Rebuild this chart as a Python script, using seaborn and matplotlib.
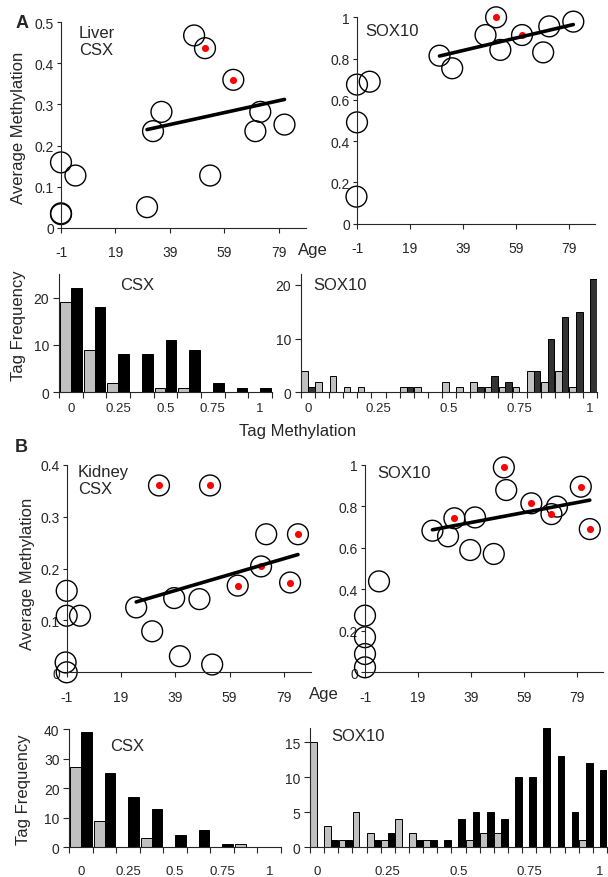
import numpy as np
import pandas as pd
import matplotlib
matplotlib.use('Agg')
import matplotlib.pyplot as plt
import seaborn as sns

sns.set_style('ticks')
plt.rcParams['font.family'] = ['Liberation Sans', 'DejaVu Sans']
plt.rcParams['axes.unicode_minus'] = False

# Scatter data: age vs average methylation (red = flagged samples)
liver_csx_age = [-1, -1, -1, 4.3, 30.6, 32.8, 35.9, 47.9, 51.9, 53.8, 62.3, 70.4, 72.2, 81.1]
liver_csx_meth = [0.159, 0.033, 0.035, 0.127, 0.050, 0.235, 0.282, 0.468, 0.437, 0.127, 0.360, 0.235, 0.282, 0.251]
liver_csx_red = [0, 0, 0, 0, 0, 0, 0, 0, 1, 0, 1, 0, 0, 0]

liver_sox_age = [-1, 3.8, -1, -1.2, 30.2, 35.0, 47.6, 51.6, 53.2, 61.4, 69.4, 71.7, 80.8]
liver_sox_meth = [0.674, 0.688, 0.491, 0.131, 0.814, 0.753, 0.914, 1.0, 0.842, 0.914, 0.830, 0.956, 0.979]
liver_sox_red = [0, 0, 0, 0, 0, 0, 0, 1, 0, 1, 0, 0, 0]

kidney_csx_age = [-1, -1, 3.9, -1.4, -1, 24.6, 30.5, 33.0, 38.6, 40.7, 47.9, 51.8, 52.6, 62.0, 70.6, 72.5, 81.3, 84.2]
kidney_csx_meth = [0.157, 0.109, 0.109, 0.019, 0.0, 0.125, 0.079, 0.360, 0.143, 0.031, 0.141, 0.360, 0.015, 0.167, 0.204, 0.266, 0.173, 0.266]
kidney_csx_red = [0, 0, 0, 0, 0, 0, 0, 1, 0, 0, 0, 1, 0, 1, 1, 0, 1, 1]

kidney_sox_age = [-1, -1, -1, -1, 4.3, 24.5, 30.4, 32.8, 38.8, 40.6, 47.7, 51.5, 52.4, 61.9, 69.5, 71.6, 80.6, 84.0]
kidney_sox_meth = [0.024, 0.088, 0.169, 0.273, 0.438, 0.682, 0.655, 0.742, 0.589, 0.746, 0.570, 0.987, 0.878, 0.814, 0.762, 0.798, 0.894, 0.690]
kidney_sox_red = [0, 0, 0, 0, 0, 0, 0, 1, 0, 0, 0, 1, 0, 1, 1, 0, 1, 1]

# Histogram data: tag frequency per methylation bin (gray / black groups)
csx_bins = ['0', '0.125', '0.25', '0.375', '0.5', '0.625', '0.75', '0.875', '1']
sox_bins = ['%g' % (i * 0.05) for i in range(21)]

liver_csx_gray = [19, 9, 2, 0, 1, 1, 0, 0, 0]
liver_csx_black = [22, 18, 8, 8, 11, 9, 2, 1, 1]
liver_sox_gray = [4, 2, 3, 1, 1, 0, 0, 1, 1, 0, 2, 1, 2, 1, 1, 1, 4, 2, 4, 1, 0]
liver_sox_black = [1, 0, 0, 0, 0, 0, 0, 1, 0, 0, 0, 0, 1, 3, 2, 0, 4, 10, 14, 15, 21]
kidney_csx_gray = [27, 9, 0, 3, 0, 0, 0, 1, 0]
kidney_csx_black = [39, 25, 17, 13, 4, 6, 1, 0, 0]
kidney_sox_gray = [15, 3, 1, 5, 2, 1, 4, 2, 1, 0, 0, 1, 2, 2, 0, 0, 0, 0, 0, 1, 0]
kidney_sox_black = [0, 1, 1, 0, 1, 2, 0, 1, 1, 1, 4, 5, 5, 4, 10, 10, 17, 13, 5, 12, 11]

hist_labels = ['0', '0.25', '0.5', '0.75', '1']

W, H = 608, 878
fig = plt.figure(figsize=(W / 100, H / 100), dpi=100)


def add_ax(l, t, r, b):
    return fig.add_axes([l / W, 1 - b / H, (r - l) / W, (b - t) / H])


def scatter_panel(ax, age, meth, red, ymax, ystep):
    df = pd.DataFrame({'age': age, 'meth': meth, 'red': red})
    sns.scatterplot(data=df, x='age', y='meth', s=225, facecolor='none',
                    edgecolor='black', linewidth=1.0, clip_on=False, ax=ax)
    sns.scatterplot(data=df[df.red == 1], x='age', y='meth', s=26, color='red',
                    linewidth=0, clip_on=False, ax=ax)
    adult = df[df.age > 20]
    sns.regplot(data=adult, x='age', y='meth', scatter=False, ci=None,
                color='black', line_kws={'linewidth': 2.6}, ax=ax)
    ax.set_xlim(-1, 89)
    ax.set_ylim(0, ymax)
    ax.set_xticks([-1, 19, 39, 59, 79])
    yt = np.round(np.arange(0, ymax + 1e-9, ystep), 2)
    ax.set_yticks(yt)
    ax.set_yticklabels(['%g' % v for v in yt])
    ax.set_xlabel('')
    ax.set_ylabel('')
    ax.tick_params(axis='x', length=3.5, width=0.8, labelsize=10, pad=9)
    ax.tick_params(axis='y', length=3, width=0.8, labelsize=10, pad=2)
    for s in ['left', 'bottom']:
        ax.spines[s].set_linewidth(0.8)
    sns.despine(ax=ax)


def hist_panel(ax, bins, gray, black, ymax, yticks, dark='black', width=0.92, xpad=3):
    df = pd.DataFrame({'bin': bins * 2, 'count': gray + black,
                       'group': ['gray'] * len(bins) + ['black'] * len(bins)})
    sns.barplot(data=df, x='bin', y='count', hue='group', order=bins,
                hue_order=['gray', 'black'], palette={'gray': '#c0c0c0', 'black': dark},
                width=width, edgecolor='black', linewidth=0.7, legend=False,
                saturation=1, ax=ax)
    n = len(bins)
    ax.set_xlim(-0.5, n - 0.5)
    ax.set_ylim(0, ymax)
    pos = [bins.index('%g' % float(l)) for l in hist_labels]
    ax.set_xticks(pos)
    ax.set_xticklabels(hist_labels)
    ax.set_xticks(np.arange(n + 1) - 0.5, minor=True)
    ax.set_yticks(yticks)
    ax.set_xlabel('')
    ax.set_ylabel('')
    ax.tick_params(axis='x', which='major', length=0, labelsize=9.5, pad=xpad + 4)
    ax.tick_params(axis='x', which='minor', length=4, width=0.8)
    ax.tick_params(axis='y', length=4, width=0.8, labelsize=10, pad=3)
    for s in ['left', 'bottom']:
        ax.spines[s].set_linewidth(0.8)
    sns.despine(ax=ax)


# Panel A
ax1 = add_ax(61, 23.3, 306, 228.7)
scatter_panel(ax1, liver_csx_age, liver_csx_meth, liver_csx_red, 0.5, 0.1)
ax2 = add_ax(357, 18.3, 595, 224.7)
scatter_panel(ax2, liver_sox_age, liver_sox_meth, liver_sox_red, 1.0, 0.2)
ax3 = add_ax(59, 275, 272, 393.3)
hist_panel(ax3, csx_bins, liver_csx_gray, liver_csx_black, 25, [0, 10, 20])
ax4 = add_ax(301, 275, 597, 393.3)
hist_panel(ax4, sox_bins, liver_sox_gray, liver_sox_black, 22, [0, 10, 20],
           dark='#333333', width=0.95)

# Panel B
ax5 = add_ax(66.7, 465.7, 311, 673.3)
scatter_panel(ax5, kidney_csx_age, kidney_csx_meth, kidney_csx_red, 0.4, 0.1)
ax6 = add_ax(365, 465.7, 603, 673.3)
scatter_panel(ax6, kidney_sox_age, kidney_sox_meth, kidney_sox_red, 1.0, 0.2)
ax7 = add_ax(69.3, 730, 281, 848.3)
hist_panel(ax7, csx_bins, kidney_csx_gray, kidney_csx_black, 40, [0, 10, 20, 30, 40], xpad=9)
ax8 = add_ax(310, 729.3, 607, 848.3)
hist_panel(ax8, sox_bins, kidney_sox_gray, kidney_sox_black, 17, [0, 5, 10, 15],
           width=0.95, xpad=9)


def ftext(x, y, s, **kw):
    kw.setdefault('size', 12)
    fig.text(x / W, 1 - y / H, s, **kw)


ftext(22, 23, 'A', weight='bold', size=13, ha='center', va='center')
ftext(79, 26, 'Liver\nCSX', va='top', linespacing=1.15)
ftext(365, 32, 'SOX10', va='center')
ftext(19, 128, 'Average Methylation', rotation=90, ha='center', va='center')
ftext(313, 251, 'Age', ha='center', va='center')
ftext(137, 285, 'CSX', ha='center', va='center')
ftext(340, 285, 'SOX10', ha='center', va='center')
ftext(19, 326, 'Tag Frequency', rotation=90, ha='center', va='center')
ftext(298, 432, 'Tag Methylation', ha='center', va='center')

ftext(21, 448, 'B', weight='bold', size=13, ha='center', va='center')
ftext(78, 465, 'Kidney\nCSX', va='top', linespacing=1.15)
ftext(404, 474, 'SOX10', ha='center', va='center')
ftext(28, 574, 'Average Methylation', rotation=90, ha='center', va='center')
ftext(324, 695, 'Age', ha='center', va='center')
ftext(127, 747, 'CSX', ha='center', va='center')
ftext(358, 737, 'SOX10', ha='center', va='center')
ftext(24, 790, 'Tag Frequency', rotation=90, ha='center', va='center')

fig.savefig('out.png', dpi=100)
